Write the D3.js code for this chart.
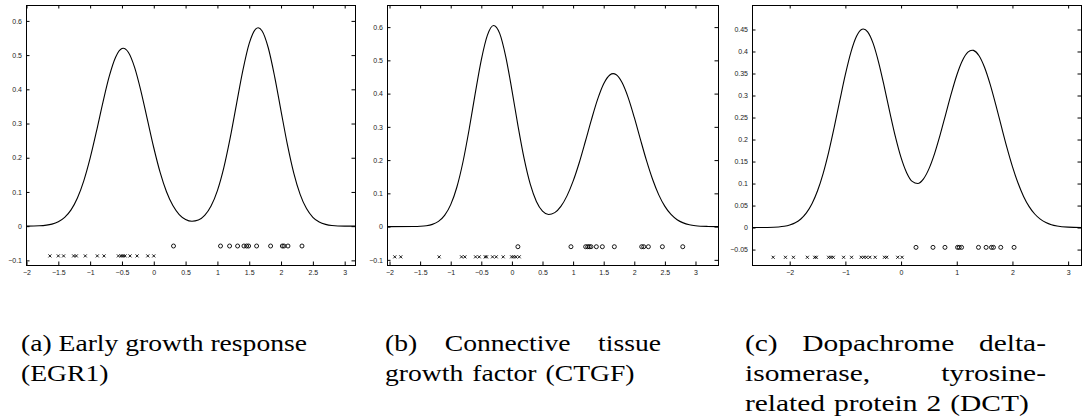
<!DOCTYPE html>
<html>
<head>
<meta charset="utf-8">
<script src="https://cdn.jsdelivr.net/npm/d3@7"></script>
<style>
  body { margin: 0; background: #fff; }
</style>
</head>
<body>
<svg id="fig" width="1087" height="416"></svg>
<script>
// ---- data ----

// (a) EGR1
const curveAx = [-2.0, -1.8, -1.6, -1.5, -1.4, -1.3, -1.2, -1.1, -1.0, -0.9, -0.8, -0.7, -0.6, -0.5, -0.48, -0.4, -0.3, -0.2, -0.1, 0.0, 0.1, 0.2, 0.3, 0.4, 0.5, 0.6, 0.7, 0.8, 0.9, 1.0, 1.1, 1.2, 1.3, 1.4, 1.5, 1.6, 1.64, 1.7, 1.8, 1.9, 2.0, 2.1, 2.2, 2.3, 2.4, 2.5, 2.6, 2.7, 2.8, 3.0, 3.17]
const curveAy = [0, 0.0011, 0.006, 0.0129, 0.0257, 0.0476, 0.0823, 0.1326, 0.1989, 0.2777, 0.3614, 0.4378, 0.494, 0.5193, 0.52, 0.5083, 0.4634, 0.3935, 0.3112, 0.2292, 0.1572, 0.1006, 0.0601, 0.034, 0.0196, 0.0144, 0.0179, 0.0314, 0.0588, 0.104, 0.1704, 0.2572, 0.3569, 0.4553, 0.5342, 0.5761, 0.58, 0.5713, 0.5208, 0.4366, 0.3365, 0.2384, 0.1553, 0.093, 0.0513, 0.0259, 0.0121, 0.0052, 0.002, 0.0002, 0]
const crossesA = [-1.632, -1.5, -1.417, -1.259, -1.217, -1.076, -0.887, -0.782, -0.556, -0.514, -0.483, -0.451, -0.373, -0.262, -0.094, 0.0]
const circlesA = [0.31, 1.049, 1.191, 1.317, 1.417, 1.459, 1.49, 1.616, 1.836, 2.02, 2.046, 2.109, 2.329]
const xTicksA = [-2, -1.5, -1, -0.5, 0, 0.5, 1, 1.5, 2, 2.5, 3]
const yTicksA = [-0.1, 0, 0.1, 0.2, 0.3, 0.4, 0.5, 0.6]

// (b) CTGF
const curveBx = [-2.03, -1.6, -1.5, -1.4, -1.3, -1.2, -1.1, -1.0, -0.9, -0.8, -0.7, -0.6, -0.5, -0.4, -0.3, -0.2, -0.1, 0.0, 0.1, 0.2, 0.3, 0.4, 0.5, 0.6, 0.7, 0.8, 0.9, 1.0, 1.1, 1.2, 1.3, 1.4, 1.5, 1.6, 1.655, 1.7, 1.8, 1.9, 2.0, 2.1, 2.2, 2.3, 2.4, 2.5, 2.6, 2.7, 2.8, 2.9, 3.0, 3.2, 3.37]
const curveBy = [0, 0.0003, 0.0009, 0.0026, 0.0067, 0.0157, 0.0337, 0.0661, 0.1184, 0.1943, 0.2913, 0.3998, 0.5017, 0.576, 0.605, 0.5811, 0.5107, 0.4107, 0.3024, 0.2042, 0.1275, 0.0756, 0.0467, 0.0366, 0.042, 0.0608, 0.0924, 0.1366, 0.1921, 0.2559, 0.3218, 0.3826, 0.4297, 0.4561, 0.46, 0.4574, 0.4334, 0.3881, 0.3283, 0.2624, 0.1982, 0.1415, 0.0954, 0.0608, 0.0366, 0.0208, 0.0112, 0.0057, 0.0027, 0.0005, 0]
const crossesB = [-1.914, -1.816, -1.189, -0.823, -0.769, -0.594, -0.534, -0.436, -0.414, -0.316, -0.256, -0.142, -0.005, 0.027, 0.065, 0.12]
const circlesB = [0.098, 0.965, 1.205, 1.238, 1.265, 1.292, 1.38, 1.478, 1.674, 2.121, 2.154, 2.23, 2.459, 2.792]
const xTicksB = [-2, -1.5, -1, -0.5, 0, 0.5, 1, 1.5, 2, 2.5, 3]
const yTicksB = [-0.1, 0, 0.1, 0.2, 0.3, 0.4, 0.5, 0.6]

// (c) DCT
const curveCx = [-2.67, -2.4, -2.2, -2.1, -2.0, -1.9, -1.8, -1.7, -1.6, -1.5, -1.4, -1.3, -1.2, -1.1, -1.0, -0.9, -0.8, -0.7, -0.677, -0.6, -0.5, -0.4, -0.3, -0.2, -0.1, 0.0, 0.1, 0.2, 0.3, 0.4, 0.5, 0.6, 0.7, 0.8, 0.9, 1.0, 1.1, 1.2, 1.275, 1.3, 1.4, 1.5, 1.6, 1.7, 1.8, 1.9, 2.0, 2.1, 2.2, 2.3, 2.4, 2.5, 2.6, 2.7, 2.8, 3.0, 3.24]
const curveCy = [0, 0.0003, 0.0014, 0.0029, 0.0058, 0.0109, 0.0195, 0.0333, 0.054, 0.0835, 0.1227, 0.1715, 0.2283, 0.2888, 0.3478, 0.3985, 0.4344, 0.4505, 0.451, 0.4447, 0.4179, 0.3738, 0.3191, 0.2607, 0.2054, 0.1588, 0.1247, 0.1049, 0.1002, 0.1101, 0.1333, 0.1674, 0.2099, 0.2568, 0.3037, 0.346, 0.3789, 0.3984, 0.403, 0.4025, 0.3904, 0.3636, 0.3252, 0.2792, 0.2302, 0.1822, 0.1385, 0.1011, 0.0708, 0.0476, 0.0308, 0.0191, 0.0114, 0.0065, 0.0036, 0.001, 0.0002]
const crossesC = [-2.297, -2.076, -1.933, -1.683, -1.551, -1.521, -1.301, -1.259, -1.217, -1.032, -0.889, -0.716, -0.668, -0.621, -0.561, -0.465, -0.298, -0.257, -0.06, 0.018]
const circlesC = [0.268, 0.573, 0.788, 1.014, 1.044, 1.086, 1.39, 1.527, 1.623, 1.659, 1.79, 2.029]
const xTicksC = [-2, -1, 0, 1, 2, 3]
const yTicksC = [-0.05, 0, 0.05, 0.1, 0.15, 0.2, 0.25, 0.3, 0.35, 0.4, 0.45]

// marker rows sit below the zero line
const markerLevels = {
  a: { circle: -0.058, cross: -0.087 },
  b: { circle: -0.0605, cross: -0.091 },
  c: { circle: -0.045, cross: -0.0675 },
}

const captionA = ["(a) Early growth response", "(EGR1)"]
const captionB = ["(b) Connective tissue", "growth factor (CTGF)"]
const captionC = ["(c) Dopachrome delta-", "isomerase, tyrosine-", "related protein 2 (DCT)"]

// ---- layout ----
const panels = [
  { key: "a", cx: curveAx, cy: curveAy, crosses: crossesA, circles: circlesA, xTicks: xTicksA, yTicks: yTicksA,
    xDomain: [-2, 3.17], yDomain: [-0.115, 0.645], left: 26.5, right: 355.5, top: 5.5, bottom: 265.5,
    caption: captionA, capLeft: 21, capRight: 307, capScale: 1.2 },
  { key: "b", cx: curveBx, cy: curveBy, crosses: crossesB, circles: circlesB, xTicks: xTicksB, yTicks: yTicksB,
    xDomain: [-2.033, 3.376], yDomain: [-0.117, 0.665], left: 387.5, right: 718.5, top: 5.5, bottom: 265.5,
    caption: captionB, capLeft: 385, capRight: 661, capScale: 1.2 },
  { key: "c", cx: curveCx, cy: curveCy, crosses: crossesC, circles: circlesC, xTicks: xTicksC, yTicks: yTicksC,
    xDomain: [-2.668, 3.24], yDomain: [-0.0862, 0.5045], left: 752.5, right: 1081.5, top: 5.5, bottom: 265.5,
    caption: captionC, capLeft: 745, capRight: 1046, capScale: 1.28 },
]

const tickLen = 3.5
const capBase = 351
const capGap = 30
const capSpace = 9
const labelFont = "Liberation Sans, Arial, sans-serif"
const captionFont = "Liberation Serif, Times New Roman, serif"

const svg = d3.select("#fig")
svg.append("rect").attr("width", 1087).attr("height", 416).attr("fill", "#fff")

const fmt = d => (d === 0 ? "0" : d3.format("~g")(d))

panels.forEach(p => {
  const x = d3.scaleLinear().domain(p.xDomain).range([p.left, p.right])
  const y = d3.scaleLinear().domain(p.yDomain).range([p.bottom, p.top])
  const g = svg.append("g").attr("class", "panel-" + p.key)

  // inward ticks on all four sides, MATLAB style
  const axes = [
    { ax: d3.axisBottom(x).tickValues(p.xTicks).tickFormat(fmt).tickPadding(4.7), t: `translate(0,${p.bottom - 0.5})` },
    { ax: d3.axisTop(x).tickValues(p.xTicks).tickFormat(""), t: `translate(0,${p.top - 0.5})` },
    { ax: d3.axisLeft(y).tickValues(p.yTicks).tickFormat(fmt).tickPadding(4), t: `translate(${p.left - 0.5},0)` },
    { ax: d3.axisRight(y).tickValues(p.yTicks).tickFormat(""), t: `translate(${p.right - 0.5},0)` },
  ]
  axes.forEach(a => {
    g.append("g")
      .attr("transform", a.t)
      .call(a.ax.tickSize(-tickLen))
      .attr("font-family", labelFont) // after call: the axis sets its own font
      .attr("font-size", 7)
      .call(s => s.select(".domain").remove())
      .call(s => s.selectAll("line").attr("stroke", "#000"))
      .call(s => s.selectAll("text").attr("fill", "#222"))
  })

  g.append("rect")
    .attr("x", p.left).attr("y", p.top)
    .attr("width", p.right - p.left).attr("height", p.bottom - p.top)
    .attr("fill", "none").attr("stroke", "#000").attr("stroke-width", 1)

  const pts = p.cx.map((v, i) => [v, p.cy[i]])
  const line = d3.line().x(d => x(d[0])).y(d => y(d[1])).curve(d3.curveMonotoneX)
  g.append("path")
    .datum(pts)
    .attr("d", line)
    .attr("fill", "none")
    .attr("stroke", "#000")
    .attr("stroke-width", 1.1)

  const lv = markerLevels[p.key]
  g.append("g").selectAll("path")
    .data(p.crosses)
    .join("path")
    .attr("transform", d => `translate(${x(d)},${y(lv.cross)})`)
    .attr("d", "M-1.5,-1.5L1.5,1.5M-1.5,1.5L1.5,-1.5")
    .attr("stroke", "#000")
    .attr("stroke-width", 0.9)
    .attr("fill", "none")

  g.append("g").selectAll("circle")
    .data(p.circles)
    .join("circle")
    .attr("cx", d => x(d))
    .attr("cy", y(lv.circle))
    .attr("r", 2)
    .attr("fill", "none")
    .attr("stroke", "#000")
    .attr("stroke-width", 0.9)

  // caption, justified like the LaTeX subcaption; glyphs widened with textLength
  p.caption.forEach((txt, i) => {
    const words = txt.split(" ")
    const texts = words.map(w => svg.append("text")
      .attr("font-family", captionFont)
      .attr("font-size", 23)
      .attr("fill", "#000")
      .attr("y", capBase + i * capGap)
      .text(w))
    const widths = texts.map(t => t.node().getComputedTextLength() * p.capScale)
    const justify = i < p.caption.length - 1 && words.length > 1
    const gap = justify ? (p.capRight - p.capLeft - d3.sum(widths)) / (words.length - 1) : capSpace
    let pos = p.capLeft
    texts.forEach((t, j) => {
      t.attr("x", pos)
        .attr("textLength", widths[j])
        .attr("lengthAdjust", "spacingAndGlyphs")
      pos += widths[j] + gap
    })
  })
})
</script>
</body>
</html>
